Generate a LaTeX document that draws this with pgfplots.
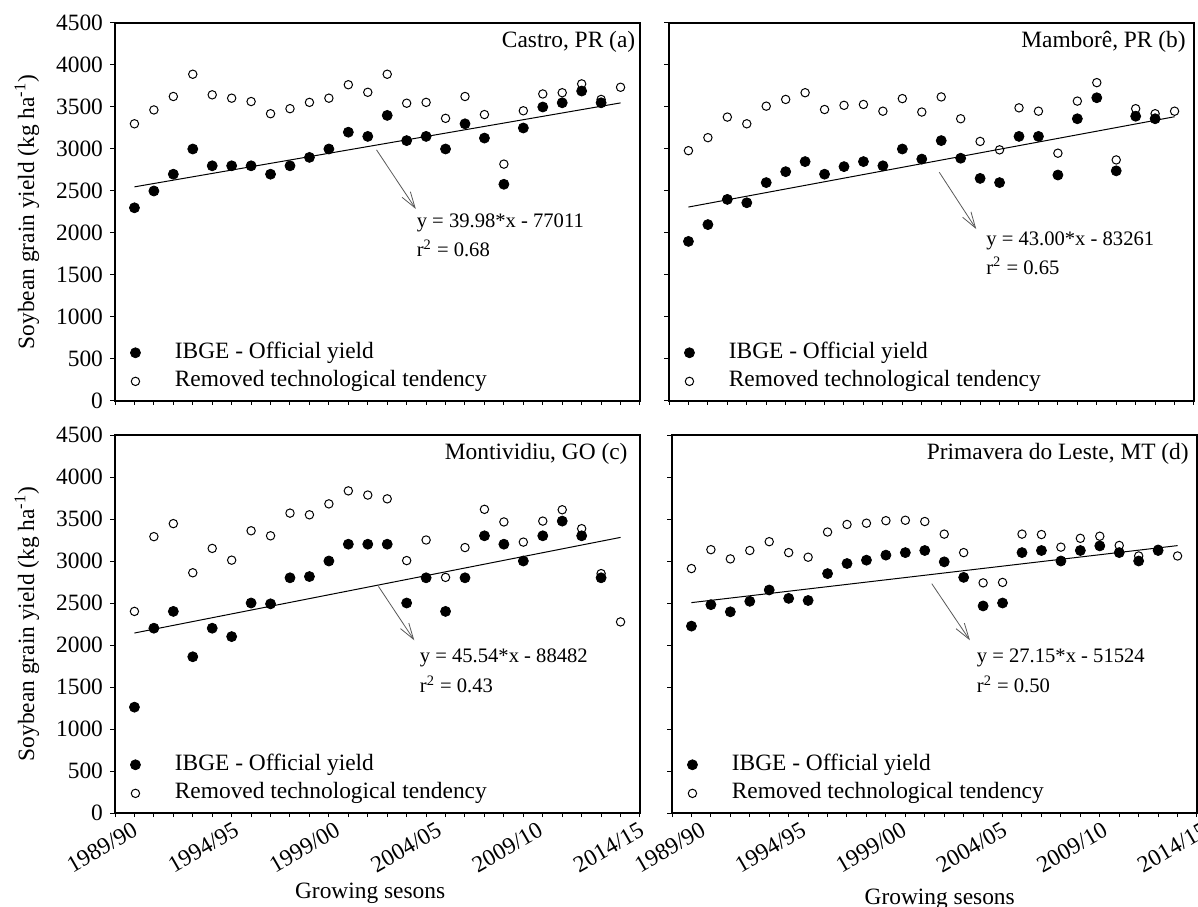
\documentclass[border=0pt]{standalone}
\usepackage{fontspec}
\setmainfont{Liberation Serif}
\usepackage{pgfplots}
\usepackage{pgfplotstable}
\pgfplotsset{compat=1.18}
\usetikzlibrary{arrows.meta}

% year = harvest year of the growing season (1990 = 1989/90)
\pgfplotstableread{
year ibge removed
1990 2300 3300
1991 2500 3465
1992 2700 3625
1993 3000 3890
1994 2800 3645
1995 2800 3605
1996 2800 3565
1997 2700 3420
1998 2800 3480
1999 2900 3555
2000 3000 3605
2001 3200 3765
2002 3150 3675
2003 3400 3890
2004 3100 3545
2005 3150 3555
2006 3000 3365
2007 3300 3625
2008 3130 3410
2009 2580 2820
2010 3250 3455
2011 3500 3655
2012 3550 3670
2013 3690 3775
2014 3550 3590
2015 nan  3735
}\castro

\pgfplotstableread{
year ibge removed
1990 1900 2980
1991 2100 3135
1992 2400 3380
1993 2360 3300
1994 2600 3510
1995 2730 3590
1996 2850 3670
1997 2700 3470
1998 2790 3520
1999 2850 3530
2000 2800 3450
2001 3000 3600
2002 2880 3440
2003 3100 3620
2004 2890 3360
2005 2650 3090
2006 2600 2990
2007 3150 3490
2008 3150 3450
2009 2690 2950
2010 3360 3570
2011 3610 3790
2012 2740 2870
2013 3390 3480
2014 3360 3420
2015 nan  3450
}\mambore

\pgfplotstableread{
year ibge removed
1990 1260 2400
1991 2200 3290
1992 2400 3445
1993 1860 2860
1994 2200 3150
1995 2100 3010
1996 2500 3360
1997 2490 3300
1998 2800 3570
1999 2815 3550
2000 3000 3680
2001 3200 3835
2002 3200 3785
2003 3200 3740
2004 2500 3005
2005 2800 3250
2006 2400 2805
2007 2800 3160
2008 3300 3615
2009 3200 3465
2010 3000 3225
2011 3300 3475
2012 3475 3610
2013 3300 3385
2014 2800 2850
2015 nan  2275
}\montividiu

\pgfplotstableread{
year ibge removed
1990 2225 2910
1991 2480 3135
1992 2395 3025
1993 2520 3125
1994 2655 3230
1995 2555 3100
1996 2530 3045
1997 2850 3345
1998 2970 3435
1999 3010 3450
2000 3070 3480
2001 3100 3485
2002 3125 3470
2003 2990 3320
2004 2805 3100
2005 2465 2740
2006 2500 2745
2007 3100 3320
2008 3125 3315
2009 3000 3165
2010 3125 3270
2011 3180 3295
2012 3100 3185
2013 3000 3060
2014 3125 3140
2015 nan  3060
}\primavera

\newcommand{\bigfont}{\fontsize{11.7}{14}\selectfont}
\newcommand{\eqfont}{\fontsize{10.3}{12}\selectfont}

\pgfplotsset{
  yieldpanel/.style={
    scale only axis, width=262.5pt, height=189pt,
    anchor=south west,
    xmin=1989, xmax=2016, ymin=0, ymax=4500,
    % season labels sit on their own (label-only) major ticks,
    % the visible x ticks are the yearly minor ones
    xtick={1990,1995,...,2015}, minor xtick={1989,...,2016},
    every major x tick/.append style={draw=none},
    ytick={0,500,...,4500},
    tick pos=left, tick align=outside,
    major tick length=2.5pt, minor tick length=2pt,
    tick style={black, line width=0.5pt},
    axis line style={line width=0.6pt},
    tick label style={font=\bigfont},
    label style={font=\bigfont},
    /pgf/number format/assume math mode=true,
    /pgf/number format/set thousands separator={},
    clip=false,
    legend cell align=left,
    legend style={draw=none, fill=none, inner sep=0pt, font=\bigfont,
      at={(rel axis cs:0.026,0.017)}, anchor=south west,
      row sep=1.5pt,
      nodes={inner sep=1pt, text height=8.2pt, text depth=2.6pt}},
    legend image code/.code={\draw[##1] plot coordinates {(0pt,0pt)}; \path (-3pt,0pt) (18.5pt,0pt);},
  },
  official/.style={only marks, mark=*, mark size=2.5pt, black},
  detrended/.style={only marks, mark=o, mark size=2.1pt, black, mark options={line width=0.5pt}},
  trend/.style={black, line width=0.5pt, forget plot},
  leftlabels/.style={ylabel={Soybean grain yield (kg ha\textsuperscript{-1})},
    ylabel style={at={(axis description cs:-0.168,0.5)}, anchor=center}},
  bottomlabels/.style={
    xticklabel style={rotate=30, anchor=north east, inner sep=1pt}},
}

\tikzset{
  eqarrow/.style={-{Straight Barb[length=8pt,width=5pt]}, black!65, line width=0.4pt},
  eqtext/.style={anchor=base west, inner sep=0pt, font=\eqfont},
  paneltitle/.style={anchor=base east, inner sep=0pt, font=\bigfont},
  seasonlabel/.style={rotate=30, anchor=north east, inner sep=1pt, font=\bigfont},
}

\begin{document}
\begin{tikzpicture}
\useasboundingbox (0pt,0pt) rectangle (599pt,453pt);

% (a) Castro, PR
\begin{axis}[yieldpanel, leftlabels, xticklabels={}, at={(57.5pt,252.5pt)}]
\addplot[official] table[x=year, y=ibge] {\castro};
\addplot[detrended] table[x=year, y=removed] {\castro};
\addplot[trend] coordinates {(1990,2549.2) (2015,3548.7)};
\legend{IBGE - Official yield, Removed technological tendency}
\node[paneltitle] at (rel axis cs:0.9916,0.9365) {Castro, PR (a)};
\draw[eqarrow] (axis cs:2002.45,2990) -- (axis cs:2004.47,2286);
\node[eqtext] at (axis cs:2004.5,2067) {y = 39.98*x - 77011};
\node[eqtext] at (axis cs:2004.5,1721) {r\textsuperscript{2} = 0.68};
\end{axis}

% (b) Mamborê, PR
\begin{axis}[yieldpanel, xticklabels={}, yticklabels={}, at={(334.5pt,252.5pt)}]
\addplot[official] table[x=year, y=ibge] {\mambore};
\addplot[detrended] table[x=year, y=removed] {\mambore};
\addplot[trend] coordinates {(1990,2309) (2015,3384)};
\legend{IBGE - Official yield, Removed technological tendency}
\node[paneltitle] at (rel axis cs:0.985,0.9365) {Mamborê, PR (b)};
\draw[eqarrow] (axis cs:2002.9,2723) -- (axis cs:2004.8,2047);
\node[eqtext] at (axis cs:2005.3,1848) {y = 43.00*x - 83261};
\node[eqtext] at (axis cs:2005.3,1510) {r\textsuperscript{2} = 0.65};
\end{axis}

% (c) Montividiu, GO
\begin{axis}[yieldpanel, leftlabels, bottomlabels, at={(57.5pt,46.5pt)},
  xtick={1989.88,1995.09,2000.30,2005.51,2010.72,2015.93},
  xticklabels={1989/90,1994/95,1999/00,2004/05,2009/10,2014/15},
  xlabel={Growing sesons},
  xlabel style={at={(axis description cs:0.486,-0.2275)}, anchor=base}]
\addplot[official] table[x=year, y=ibge] {\montividiu};
\addplot[detrended] table[x=year, y=removed] {\montividiu};
\addplot[trend] coordinates {(1990,2142.6) (2015,3281.1)};
\legend{IBGE - Official yield, Removed technological tendency}
\node[paneltitle] at (rel axis cs:0.977,0.9365) {Montividiu, GO (c)};
\draw[eqarrow] (axis cs:2002.55,2698) -- (axis cs:2004.39,2056);
\node[eqtext] at (axis cs:2004.66,1786) {y = 45.54*x - 88482};
\node[eqtext] at (axis cs:2004.66,1433) {r\textsuperscript{2} = 0.43};
\end{axis}

% (d) Primavera do Leste, MT
\begin{axis}[yieldpanel, bottomlabels, yticklabels={}, at={(336pt,46.5pt)},
  xtick={1990.44,1995.61,2000.78,2005.95,2011.12},
  xticklabels={1989/90,1994/95,1999/00,2004/05,2009/10},
  xlabel={Growing sesons},
  xlabel style={at={(axis description cs:0.51,-0.243)}, anchor=base}]
\addplot[official] table[x=year, y=ibge] {\primavera};
\addplot[detrended] table[x=year, y=removed] {\primavera};
\addplot[trend] coordinates {(1990,2504.5) (2015,3183.3)};
\legend{IBGE - Official yield, Removed technological tendency}
\node[paneltitle] at (rel axis cs:0.985,0.9365) {Primavera do Leste, MT (d)};
% last season label lies just past the right end of the axis
\node[seasonlabel] at ([yshift=-2.5pt]axis cs:2016.29,0) {2014/15};
\draw[eqarrow] (axis cs:2002.36,2730) -- (axis cs:2004.32,2056);
\node[eqtext] at (axis cs:2004.66,1786) {y = 27.15*x - 51524};
\node[eqtext] at (axis cs:2004.66,1433) {r\textsuperscript{2} = 0.50};
\end{axis}
\end{tikzpicture}
\end{document}
